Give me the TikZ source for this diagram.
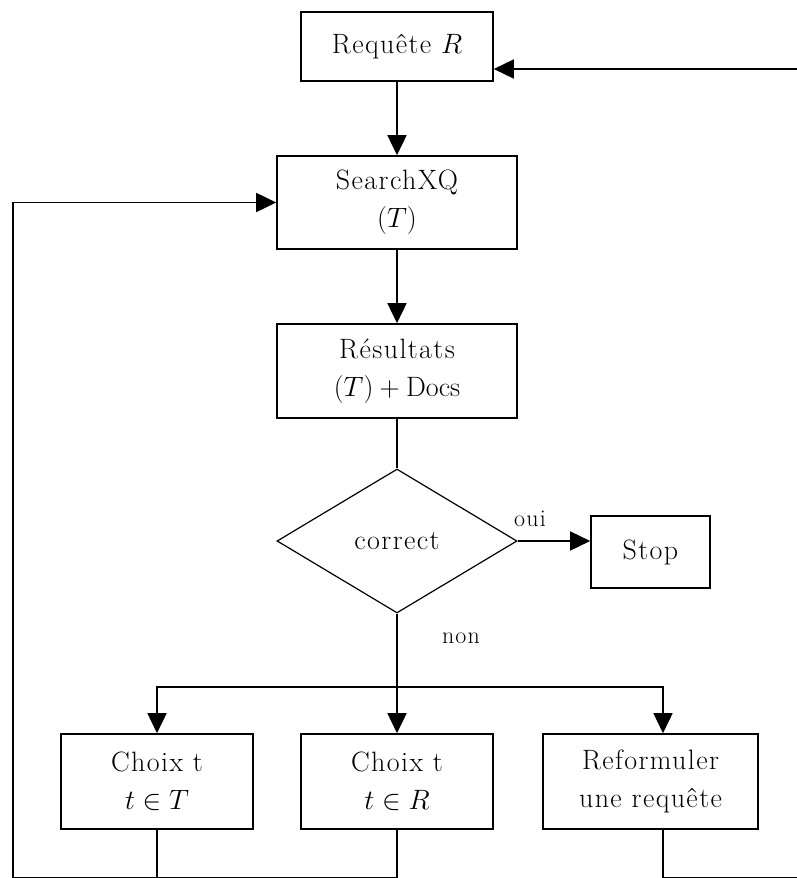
\RequirePackage{fix-cm}
\documentclass[tikz,border=0pt]{standalone}
\usepackage{fontspec}
\setmainfont{Latin Modern Roman}[LetterSpace=5]
\usetikzlibrary{shapes.geometric, arrows.meta}
\tikzset{
    box/.style={draw, line width=1.6pt, inner sep=0pt, align=center, font=\fontsize{28}{38}\selectfont},
    test/.style={draw, diamond, line width=1.2pt, inner sep=0pt, aspect=1.667, minimum width=240pt, minimum height=144pt, font=\fontsize{28}{38}\selectfont},
    link/.style={line width=1.6pt, -{Triangle[length=20pt, width=19pt]}},
    wire/.style={line width=1.6pt},
    answer/.style={font=\fontsize{24}{28}\selectfont},
}

\begin{document}
\begin{tikzpicture}[x=1pt, y=-1pt]
    \useasboundingbox (0,0) rectangle (797,878);
    % boxes
    \node[box, minimum width=192pt, minimum height=69pt] (req) at (397,46.5) {Requête $R$};
    \node[box, minimum width=240pt, minimum height=93pt] (search) at (397,202.5) {SearchXQ\\$(T)$};
    \node[box, minimum width=240pt, minimum height=94pt] (res) at (397,371) {Résultats\\$(T)+\mathrm{Docs}$};
    \node[test] (correct) at (397,541) {correct};
    \node[box, minimum width=119pt, minimum height=72pt] (stop) at (650.5,552) {Stop};
    \node[box, minimum width=192pt, minimum height=95pt] (choixT) at (157,781.5) {Choix t\\$t\in T$};
    \node[box, minimum width=192pt, minimum height=95pt] (choixR) at (397,781.5) {Choix t\\$t\in R$};
    \node[box, minimum width=215pt, minimum height=95pt] (reform) at (650.5,781.5) {Reformuler\\une requête};
    \node[answer] (oui) at (530,519) {oui};
    \node[answer] (non) at (461,638) {non};
    % helper points
    \coordinate (split) at (397,687);
    \coordinate (back) at (663,878);
    \coordinate (left) at (13,878);
    \coordinate (right) at (800,878);
    \coordinate (top) at (800,69);
    % connectors
    \draw[link] (req) -- (search);
    \draw[link] (search) -- (res);
    \draw[wire] (res) -- (correct);
    \draw[link] (correct.east) -- (correct.east -| stop.west);
    \draw[wire] (correct.south) -- (split);
    \draw[link] (split) -- (choixR.north);
    \draw[link] (split) -| (choixT.north);
    \draw[link] (split) -| (reform.north -| back);
    % loops
    \draw[wire] (choixT.south) -- (choixT.south |- left);
    \draw[wire] (choixR.south) |- (left);
    \draw[link] (left) |- (search.west);
    \draw[wire] (reform.south -| back) -- (back) -- (right);
    \draw[link] (right) -- (top) -- (top -| req.east);
\end{tikzpicture}
\end{document}
